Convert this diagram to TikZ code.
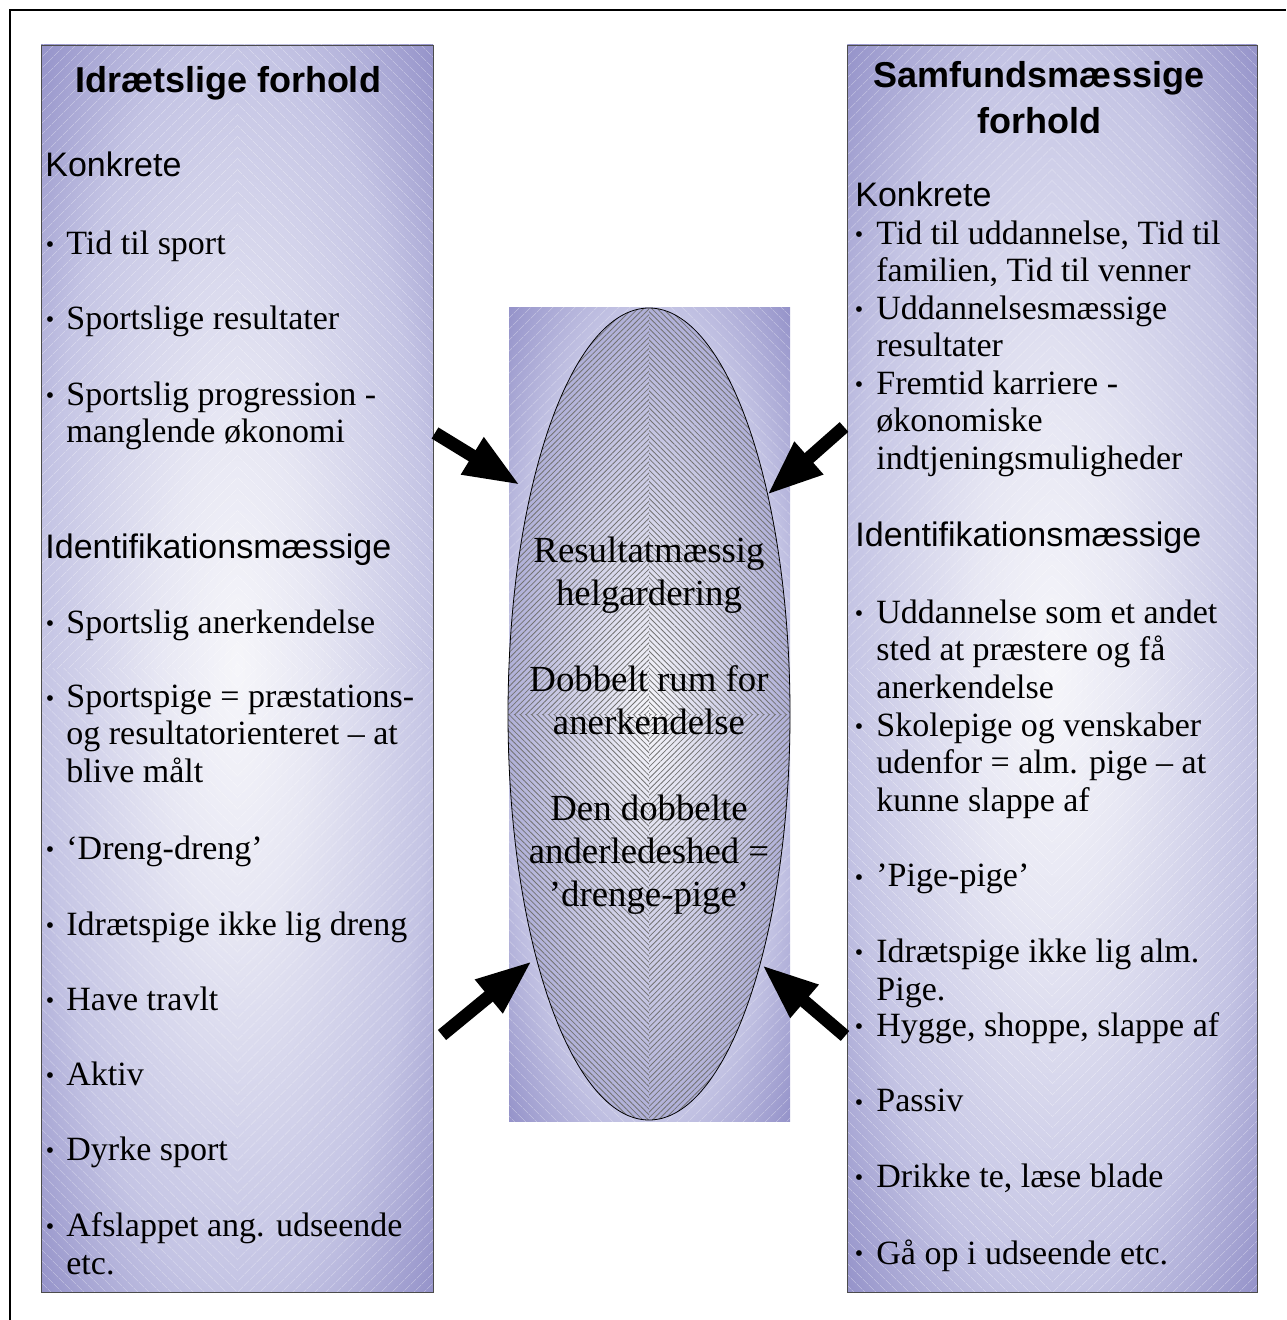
\documentclass[tikz,border=0pt]{standalone}
\usepackage{fontspec}
\setmainfont{Liberation Serif}
\newfontfamily\headfont{Liberation Sans}
\usetikzlibrary{arrows.meta,shapes.geometric,patterns.meta}

\definecolor{panelin}{RGB}{246,246,250}
\definecolor{panelmid}{RGB}{196,196,228}
\definecolor{panelout}{RGB}{150,148,202}
\definecolor{corein}{RGB}{246,246,250}
\definecolor{coreout}{RGB}{176,176,216}

\pgfdeclareradialshading{panelglow}{\pgfpoint{0bp}{0bp}}{color(0bp)=(panelin); color(10bp)=(panelin!70!panelmid);
  color(25bp)=(panelmid); color(35bp)=(panelout); color(50bp)=(panelout)}

% diamond hatch: centre x, centre y, half width, half height, spacing, colour
\newcommand{\quadhatch}[6]{%
  \fill[pattern={Lines[angle=45,distance=#5,line width=0.4pt]},pattern color=#6] (#1-#3,#2-#4) rectangle (#1,#2);
  \fill[pattern={Lines[angle=-45,distance=#5,line width=0.4pt]},pattern color=#6] (#1,#2-#4) rectangle (#1+#3,#2);
  \fill[pattern={Lines[angle=-45,distance=#5,line width=0.4pt]},pattern color=#6] (#1-#3,#2) rectangle (#1,#2+#4);
  \fill[pattern={Lines[angle=45,distance=#5,line width=0.4pt]},pattern color=#6] (#1,#2) rectangle (#1+#3,#2+#4);}

\tikzset{
  panelfill/.style={shading=panelglow},
  itemtext/.style={anchor=north west, inner sep=0pt, align=left, font=\fontsize{17}{18.75}\selectfont},
  bulletdot/.style={inner sep=0pt, font=\fontsize{12}{12}\selectfont},
  headtext/.style={inner sep=0pt, font=\headfont\fontsize{17}{20}\selectfont},
  paneltitle/.style={inner sep=0pt, align=center, font=\headfont\bfseries\fontsize{18}{23}\selectfont},
  pusharrow/.style={line width=6.5pt, -{Triangle[length=28pt,width=20pt]}},
}

\begin{document}
\begin{tikzpicture}[x=0.5pt,y=-0.5pt]
\useasboundingbox (0,0) rectangle (1286,1320);
\draw[line width=1pt] (10,1320) -- (10,10) -- (1286,10);

% left panel
\shade[panelfill] (41,45) rectangle (433,1292);
\begin{scope}[fill opacity=.3] \quadhatch{237}{668.5}{196}{623.5}{4pt}{white} \end{scope}
\draw[black!70] (41,45) rectangle (433,1292);

% right panel
\shade[panelfill] (847,45) rectangle (1257,1292);
\begin{scope}[fill opacity=.3] \quadhatch{1052}{668.5}{205}{623.5}{4pt}{white} \end{scope}
\draw[black!70] (847,45) rectangle (1257,1292);

% middle
\shade[panelfill] (509,308) rectangle (790,1121);
\begin{scope}[fill opacity=.3] \quadhatch{649.5}{714.5}{140.5}{406.5}{4pt}{white} \end{scope}
\node[ellipse, minimum width=141pt, minimum height=406pt, inner sep=0pt,
      shading=radial, inner color=corein, outer color=coreout] (core) at (649,714) {};
\begin{scope}[fill opacity=.35]
  \clip (core.center) ellipse [x radius=70.5pt, y radius=203pt];
  \quadhatch{649}{714}{141}{406}{2pt}{black!55}
\end{scope}
\draw (core.center) ellipse [x radius=70.5pt, y radius=203pt];

% titles
\node[paneltitle, anchor=base] (ltitle) at (228,93) {Idrætslige forhold};
\node[paneltitle, anchor=north] (rtitle) at (1039,61) {Samfundsmæssige\\forhold};
\node[headtext, anchor=base west] (lkon) at (45,177) {Konkrete};
\node[headtext, anchor=base west] (rkon) at (855,207) {Konkrete};
\node[headtext, anchor=base west] (lid) at (45,558) {Identifikationsmæssige};
\node[headtext, anchor=base west] (rid) at (855,546) {Identifikationsmæssige};

% left items
\foreach \b/\txt [count=\i] in {253/{Tid til sport}, 328/{Sportslige resultater},
  404/{Sportslig progression -\\manglende økonomi}, 632/{Sportslig anerkendelse},
  707/{Sportspige = præstations-\\og resultatorienteret – at\\blive målt},
  858/{‘Dreng-dreng’}, 934/{Idrætspige ikke lig dreng}, 1009/{Have travlt},
  1084/{Aktiv}, 1159/{Dyrke sport}, 1235/{Afslappet ang. udseende\\etc.}}
{
  \node[bulletdot] (lb\i) at (50,\b-6) {\textbullet};
  \node[itemtext] (lt\i) at (66,\b-22.5) {\txt};
}

% right items
\foreach \b/\txt [count=\i] in {243/{Tid til uddannelse, Tid til\\familien, Tid til venner},
  318/{Uddannelsesmæssige\\resultater}, 393/{Fremtid karriere -\\økonomiske\\indtjeningsmuligheder},
  622/{Uddannelse som et andet\\sted at præstere og få\\anerkendelse},
  735/{Skolepige og venskaber\\udenfor = alm. pige – at\\kunne slappe af},
  886/{’Pige-pige’}, 961/{Idrætspige ikke lig alm.\\Pige.}, 1035/{Hygge, shoppe, slappe af},
  1111/{Passiv}, 1186/{Drikke te, læse blade}, 1262/{Gå op i udseende etc.}}
{
  \node[bulletdot] (rb\i) at (859,\b-6) {\textbullet};
  \node[itemtext] (rt\i) at (876,\b-22.5) {\txt};
}

% centre text
\node[anchor=north, inner sep=0pt, align=center, font=\fontsize{18.4}{21.5}\selectfont] (ctext) at (649,537)
  {Resultatmæssig\\helgardering\\[21.5pt]Dobbelt rum for\\anerkendelse\\[21.5pt]Den dobbelte\\anderledeshed =\\’drenge-pige’};

% arrows
\coordinate (ul) at (435,433); \coordinate (ult) at (520,485);
\coordinate (ur) at (844,427); \coordinate (urt) at (767,495);
\coordinate (ll) at (442,1035); \coordinate (llt) at (532,961);
\coordinate (lr) at (845,1036); \coordinate (lrt) at (762,965);
\draw[pusharrow] (ul) -- (ult);
\draw[pusharrow] (ur) -- (urt);
\draw[pusharrow] (ll) -- (llt);
\draw[pusharrow] (lr) -- (lrt);
\end{tikzpicture}
\end{document}
